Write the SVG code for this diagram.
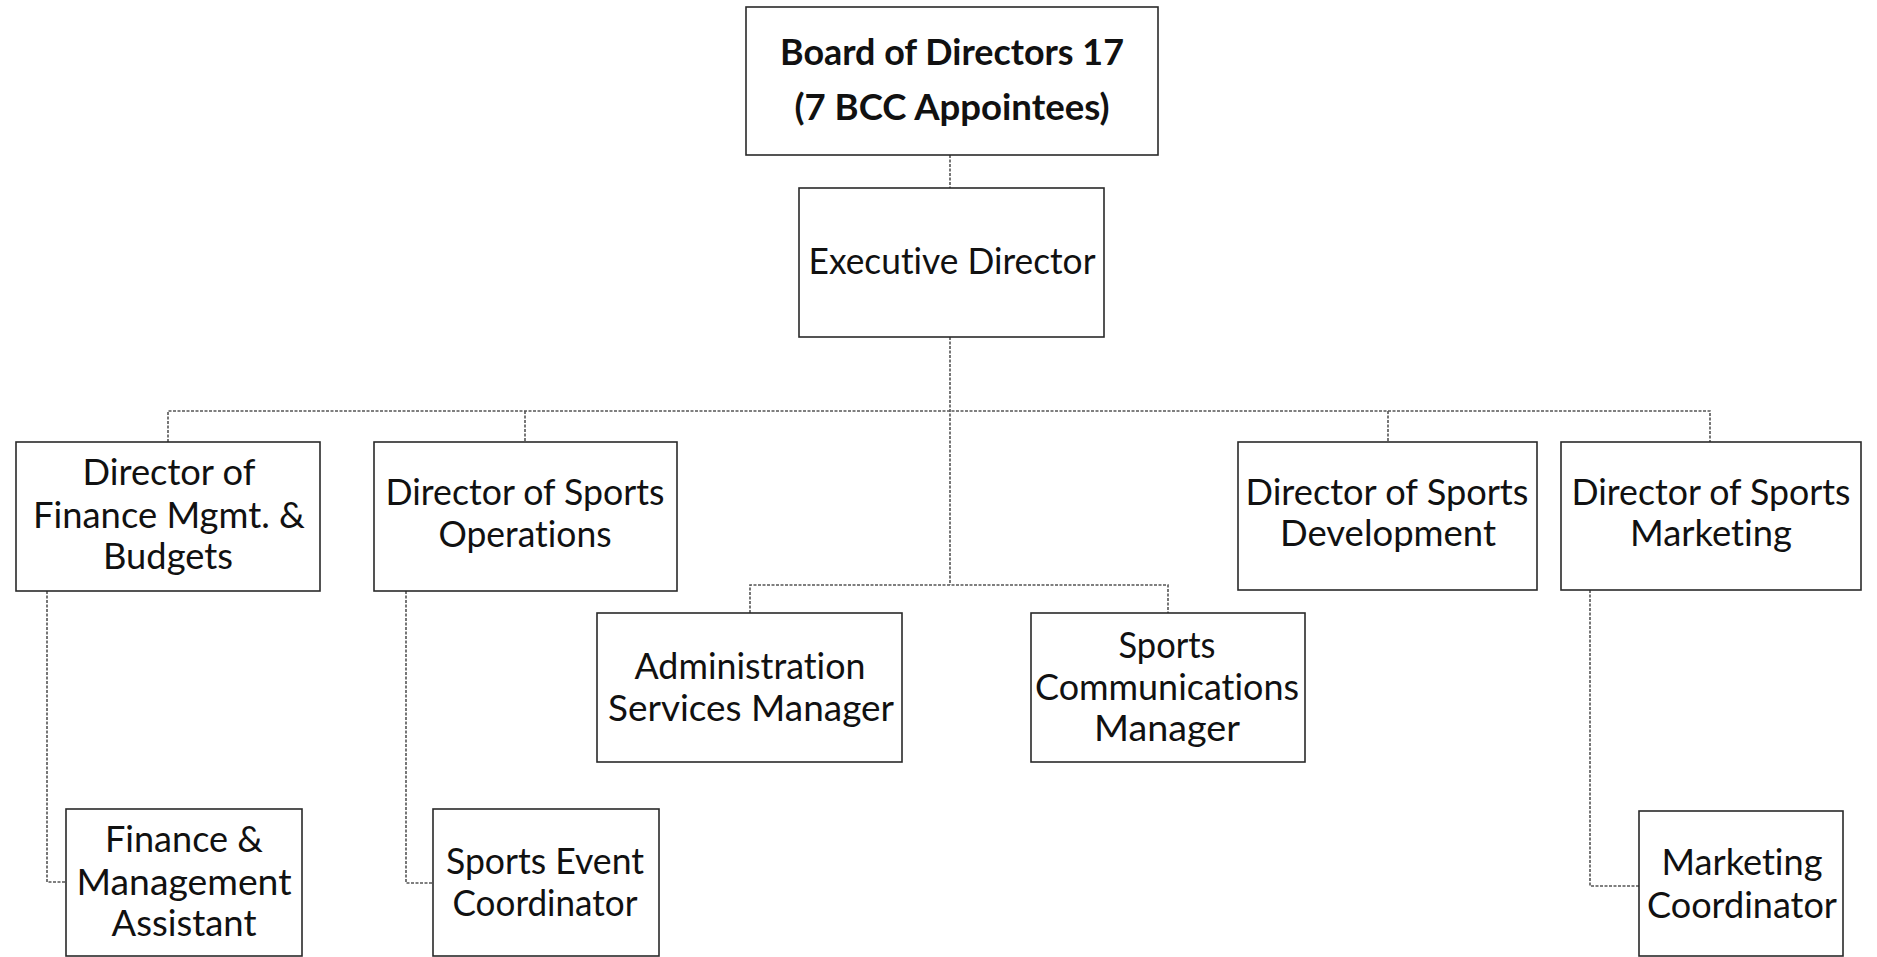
<svg xmlns="http://www.w3.org/2000/svg" width="1877" height="957" viewBox="0 0 1877 957">
<style>
.box{fill:#fff;stroke:#2a2a2a;stroke-width:1.6}
.t{font-family:Lato,"Liberation Sans",sans-serif;font-size:37px;fill:#111;text-anchor:middle;font-variant-ligatures:none;font-feature-settings:"liga" 0,"clig" 0}
.b{font-weight:bold}
.c{fill:none;stroke:#555;stroke-width:1.6;stroke-dasharray:3 1.5}
</style>
<rect width="1877" height="957" fill="#fff"/>
<g id="connectors">
<path class="c" d="M950 155V188"/>
<path class="c" d="M950 337V585"/>
<path class="c" d="M168 442V411H1710V442"/>
<path class="c" d="M525 411V442"/>
<path class="c" d="M1388 411V442"/>
<path class="c" d="M750 613V585H1168V613"/>
<path class="c" d="M47 591V882H66"/>
<path class="c" d="M406 591V883H433"/>
<path class="c" d="M1590 590V886H1639"/>
</g>
<g id="board">
<rect class="box" x="746" y="7" width="412" height="148"/>
<text class="t b" x="952" y="65" textLength="344" lengthAdjust="spacingAndGlyphs">Board of Directors 17</text>
<text class="t b" x="952" y="120" textLength="315" lengthAdjust="spacingAndGlyphs">(7 BCC Appointees)</text>
</g>
<g id="exec">
<rect class="box" x="799" y="188" width="305" height="149"/>
<text class="t" x="952" y="274" textLength="287" lengthAdjust="spacingAndGlyphs">Executive Director</text>
</g>
<g id="dir-finance">
<rect class="box" x="16" y="442" width="304" height="149"/>
<text class="t" x="169" y="485" textLength="173" lengthAdjust="spacingAndGlyphs">Director of</text>
<text class="t" x="169" y="528" textLength="272" lengthAdjust="spacingAndGlyphs">Finance Mgmt. &amp;</text>
<text class="t" x="168" y="569" textLength="130" lengthAdjust="spacingAndGlyphs">Budgets</text>
</g>
<g id="dir-ops">
<rect class="box" x="374" y="442" width="303" height="149"/>
<text class="t" x="525" y="505" textLength="279" lengthAdjust="spacingAndGlyphs">Director of Sports</text>
<text class="t" x="525" y="547" textLength="173" lengthAdjust="spacingAndGlyphs">Operations</text>
</g>
<g id="dir-dev">
<rect class="box" x="1238" y="442" width="299" height="148"/>
<text class="t" x="1387" y="505" textLength="283" lengthAdjust="spacingAndGlyphs">Director of Sports</text>
<text class="t" x="1388" y="546" textLength="216" lengthAdjust="spacingAndGlyphs">Development</text>
</g>
<g id="dir-marketing">
<rect class="box" x="1561" y="442" width="300" height="148"/>
<text class="t" x="1711" y="505" textLength="279" lengthAdjust="spacingAndGlyphs">Director of Sports</text>
<text class="t" x="1711" y="546" textLength="162" lengthAdjust="spacingAndGlyphs">Marketing</text>
</g>
<g id="admin">
<rect class="box" x="597" y="613" width="305" height="149"/>
<text class="t" x="750" y="679" textLength="231" lengthAdjust="spacingAndGlyphs">Administration</text>
<text class="t" x="751" y="721" textLength="286" lengthAdjust="spacingAndGlyphs">Services Manager</text>
</g>
<g id="comms">
<rect class="box" x="1031" y="613" width="274" height="149"/>
<text class="t" x="1167" y="658" textLength="97" lengthAdjust="spacingAndGlyphs">Sports</text>
<text class="t" x="1167" y="700" textLength="264" lengthAdjust="spacingAndGlyphs">Communications</text>
<text class="t" x="1167" y="741" textLength="146" lengthAdjust="spacingAndGlyphs">Manager</text>
</g>
<g id="fin-assistant">
<rect class="box" x="66" y="809" width="236" height="147"/>
<text class="t" x="184" y="852" textLength="158" lengthAdjust="spacingAndGlyphs">Finance &amp;</text>
<text class="t" x="184" y="895" textLength="215" lengthAdjust="spacingAndGlyphs">Management</text>
<text class="t" x="184" y="936" textLength="145" lengthAdjust="spacingAndGlyphs">Assistant</text>
</g>
<g id="event-coord">
<rect class="box" x="433" y="809" width="226" height="147"/>
<text class="t" x="545" y="874" textLength="198" lengthAdjust="spacingAndGlyphs">Sports Event</text>
<text class="t" x="545" y="916" textLength="185" lengthAdjust="spacingAndGlyphs">Coordinator</text>
</g>
<g id="marketing-coord">
<rect class="box" x="1639" y="811" width="204" height="145"/>
<text class="t" x="1742" y="875" textLength="161" lengthAdjust="spacingAndGlyphs">Marketing</text>
<text class="t" x="1742" y="918" textLength="190" lengthAdjust="spacingAndGlyphs">Coordinator</text>
</g>
</svg>
